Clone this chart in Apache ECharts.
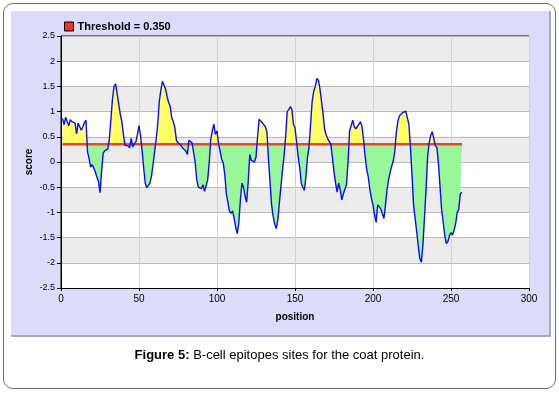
<!DOCTYPE html>
<html>
<head>
<meta charset="utf-8">
<script src="https://cdn.jsdelivr.net/npm/echarts@6/dist/echarts.min.js"></script>
<style>
  html, body { margin: 0; padding: 0; background: #fff; }
  #frame {
    position: absolute; left: 3px; top: 3px; width: 551px; height: 384px;
    border: 1px solid #6e6e6e; border-radius: 10px;
  }
  #panel {
    position: absolute; left: 11px; top: 11px; width: 538px; height: 324px;
    background: #dcdcfa; border-right: 2px solid #a9a9c4; border-bottom: 2px solid #a9a9c4;
  }
  #chart { position: absolute; left: 0; top: 0; width: 559px; height: 394px; }
  #caption {
    position: absolute; left: 0; top: 347px; width: 559px; text-align: center;
    font: 13px 'Liberation Sans', Arial, sans-serif; color: #000;
  }
</style>
</head>
<body>
<div id="frame"></div>
<div id="panel"></div>
<div id="chart"></div>
<div id="caption"><b>Figure 5:</b> B-cell epitopes sites for the coat protein.</div>
<script>
const FONT = "'Liberation Sans', Arial, sans-serif"
const threshold = 0.35
const thresholdName = 'Threshold = 0.350'
const startPos = 1

// scores, in chunks of positions
const scores1to42 = [0.86, 0.74, 0.89, 0.80, 0.72, 0.84, 0.80, 0.78, 0.77, 0.56, 0.77, 0.70, 0.63, 0.70, 0.78, 0.83,
  0.20, 0.07, -0.10, -0.05, -0.12, -0.20, -0.30, -0.38, -0.61, -0.20, 0.17, 0.22, 0.20, 0.26, 0.46,
  0.85, 1.25, 1.50, 1.55, 1.35, 1.15, 0.95, 0.80, 0.55, 0.33, 0.30]
const scores43to84 = [0.32, 0.28, 0.47, 0.30, 0.36, 0.40, 0.55, 0.72, 0.52, 0.22, -0.12, -0.42, -0.51, -0.48, -0.42,
  -0.28, -0.05, 0.20, 0.45, 0.75, 1.20, 1.42, 1.60, 1.60, 1.45, 1.30, 1.18, 1.10, 0.88, 0.80, 0.68, 0.43, 0.38,
  0.36, 0.32, 0.28, 0.30, 0.22, 0.15, 0.43, 0.40, 0.38]
const scores85to127 = [0.38, 0.00, -0.35, -0.50, -0.48, -0.53, -0.45, -0.58, -0.58, -0.36, -0.02, 0.45, 0.62, 0.75,
  0.55, 0.62, 0.35, 0.22, 0.05, -0.02, -0.25, -0.63, -0.80, -0.98, -1.02, -0.97, -1.12, -1.30, -1.42, -1.20,
  -0.75, -0.42, -0.50, -0.68, -0.80, -0.40, 0.15, 0.03, 0.00, 0.00, 0.10, 0.50, 0.85]
const scores128to169 = [0.85, 0.78, 0.74, 0.70, 0.60, 0.05, -0.40, -0.85, -1.08, -1.23, -1.32, -1.15, -0.80, -0.48,
  -0.15, 0.12, 0.50, 1.00, 1.04, 1.10, 1.05, 0.75, 0.68, 0.66, 0.12, -0.10, -0.42, -0.50, -0.56, -0.30, 0.10,
  0.30, 0.75, 1.20, 1.40, 1.50, 1.66, 1.62, 1.45, 1.20, 0.95, 0.65]
const scores170to211 = [0.53, 0.46, 0.46, 0.35, 0.08, -0.20, -0.42, -0.60, -0.42, -0.55, -0.75, -0.63, -0.63, -0.45,
  0.00, 0.62, 0.72, 0.83, 0.70, 0.66, 0.63, 0.75, 0.80, 0.70, 0.42, 0.10, -0.15, -0.30, -0.55, -0.72, -0.85,
  -1.05, -1.20, -0.85, -0.83, -0.93, -1.03, -1.12, -0.85, -0.55, -0.35, -0.20]
const scores212to257 = [-0.08, 0.02, 0.22, 0.60, 0.82, 0.92, 0.95, 0.98, 0.99, 1.01, 1.02, 0.75, 0.30, -0.26, -0.85,
  -1.12, -1.38, -1.65, -1.92, -1.99, -1.65, -1.10, -0.55, 0.10, 0.38, 0.53, 0.60, 0.60, 0.32, 0.28, -0.05,
  -0.50, -0.95, -1.20, -1.45, -1.62, -1.58, -1.46, -1.40, -1.45, -1.35, -1.22, -1.00, -0.93, -0.63, -0.60]

const scores = [].concat(scores1to42, scores43to84, scores85to127, scores128to169, scores170to211, scores212to257)
const positions = scores.map((s, i) => startPos + i)
const points = positions.map((p, i) => [p, scores[i]])
const lastPos = positions[positions.length - 1]

const chart = echarts.init(document.getElementById('chart'))
const option = {
  animation: false,
  textStyle: { fontFamily: FONT },
  grid: {
    left: 61, top: 36, width: 468, height: 252,
    show: true, borderColor: '#000', borderWidth: 1
  },
  legend: {
    data: [thresholdName],
    left: 64, top: 21, padding: 0,
    icon: 'rect', itemWidth: 9, itemHeight: 9, itemGap: 4,
    itemStyle: { borderColor: '#000', borderWidth: 1 },
    selectedMode: false,
    textStyle: { fontFamily: FONT, fontSize: 11, fontWeight: 'bold', color: '#000', padding: [0, 0, 0, -1] }
  },
  xAxis: {
    type: 'value', min: 0, max: 300, interval: 50,
    name: 'position', nameLocation: 'middle', nameGap: 24,
    nameTextStyle: { fontFamily: FONT, fontSize: 10, fontWeight: 'bold', color: '#000' },
    axisLine: { onZero: false, lineStyle: { color: '#000' } },
    axisTick: { show: true, length: 3, lineStyle: { color: '#000' } },
    axisLabel: { fontSize: 10, color: '#000', margin: 6 },
    splitLine: { show: true, lineStyle: { color: '#d2d2d2' } }
  },
  yAxis: {
    type: 'value', min: -2.5, max: 2.5, interval: 0.5,
    name: 'score', nameLocation: 'middle', nameGap: 27, nameMoveOverlap: false,
    nameTextStyle: { fontFamily: FONT, fontSize: 10, fontWeight: 'bold', color: '#000' },
    axisLine: { show: true, onZero: false, lineStyle: { color: '#000' } },
    axisTick: { show: true, length: 4, lineStyle: { color: '#000' } },
    axisLabel: { fontSize: 9, color: '#000', margin: 6 },
    splitLine: { show: true, lineStyle: { color: '#bababa' } },
    splitArea: { show: true, areaStyle: { color: ['#ffffff', '#ececec'] } }
  },
  visualMap: {
    type: 'piecewise', show: false, dimension: 1, seriesIndex: 0,
    pieces: [
      { gt: threshold, lte: 3, color: '#ffff66' },
      { gte: -3, lte: threshold, color: '#98f898' }
    ],
    outOfRange: { color: '#98f898' }
  },
  series: [
    {
      name: 'fill',
      type: 'line',
      data: points,
      showSymbol: false,
      lineStyle: { width: 0 },
      areaStyle: { origin: threshold, opacity: 1 },
      z: 1
    },
    {
      name: thresholdName,
      type: 'line',
      data: [[startPos, threshold], [lastPos, threshold]],
      showSymbol: false,
      color: '#f0332a',
      itemStyle: { color: '#f0332a' },
      lineStyle: { color: '#f0402e', width: 2.5 },
      z: 2
    },
    {
      name: 'score',
      type: 'line',
      data: points,
      showSymbol: false,
      lineStyle: { color: '#0c0cf0', width: 1.4 },
      z: 3
    }
  ]
}
chart.setOption(option)
</script>
</body>
</html>
